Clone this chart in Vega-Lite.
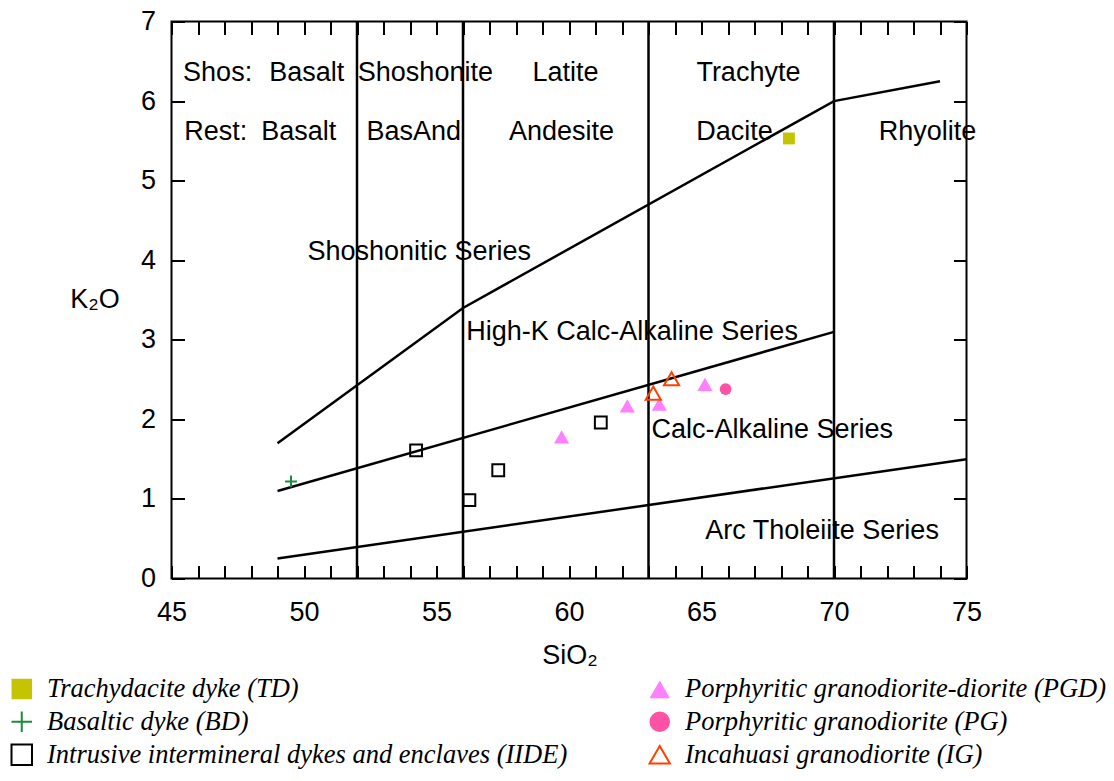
{
  "$schema": "https://vega.github.io/schema/vega-lite/v6.json",
  "width": 795,
  "height": 557,
  "autosize": "none",
  "padding": {"left": 171.5, "top": 21.5, "right": 147.5, "bottom": 202.5},
  "background": "white",
  "config": {
    "view": {"stroke": "black", "strokeWidth": 2},
    "axis": {
      "domain": false,
      "grid": false,
      "labelFlush": false,
      "labelOverlap": false,
      "tickColor": "black",
      "tickWidth": 2,
      "tickSize": -13,
      "labelFont": "Liberation Sans",
      "labelFontSize": 27,
      "labelColor": "black",
      "titleFont": "Liberation Sans",
      "titleFontSize": 27,
      "titleFontWeight": "normal",
      "titleColor": "black"
    },
    "legend": {
      "labelFont": "Liberation Serif",
      "labelFontStyle": "italic",
      "labelFontSize": 26.5,
      "labelColor": "black",
      "labelLimit": 0,
      "symbolSize": 420,
      "symbolStrokeWidth": 2
    },
    "text": {"font": "Liberation Sans", "fontSize": 27, "color": "black"}
  },
  "datasets": {
    "dividers": [{"SiO2": 52}, {"SiO2": 56}, {"SiO2": 63}, {"SiO2": 70}],
    "boundaries": [
      {"boundary": "A", "SiO2": 49, "K2O": 1.7},
      {"boundary": "A", "SiO2": 56, "K2O": 3.4},
      {"boundary": "A", "SiO2": 70, "K2O": 6.0},
      {"boundary": "A", "SiO2": 74, "K2O": 6.25},
      {"boundary": "B", "SiO2": 49, "K2O": 1.1},
      {"boundary": "B", "SiO2": 70, "K2O": 3.1},
      {"boundary": "C", "SiO2": 49, "K2O": 0.25},
      {"boundary": "C", "SiO2": 75, "K2O": 1.5}
    ],
    "labels": [
      {"label": "Shos:", "SiO2": 46.74, "K2O": 6.25},
      {"label": "Basalt", "SiO2": 50.1, "K2O": 6.25},
      {"label": "Shoshonite", "SiO2": 54.58, "K2O": 6.25},
      {"label": "Latite", "SiO2": 59.87, "K2O": 6.25},
      {"label": "Trachyte", "SiO2": 66.77, "K2O": 6.25},
      {"label": "Rest:", "SiO2": 46.67, "K2O": 5.51},
      {"label": "Basalt", "SiO2": 49.8, "K2O": 5.51},
      {"label": "BasAnd", "SiO2": 54.14, "K2O": 5.51},
      {"label": "Andesite", "SiO2": 59.72, "K2O": 5.51},
      {"label": "Dacite", "SiO2": 66.25, "K2O": 5.51},
      {"label": "Rhyolite", "SiO2": 73.53, "K2O": 5.51},
      {"label": "Shoshonitic Series", "SiO2": 54.35, "K2O": 4.0},
      {"label": "High-K Calc-Alkaline Series", "SiO2": 62.38, "K2O": 3.0},
      {"label": "Calc-Alkaline Series", "SiO2": 67.67, "K2O": 1.76},
      {"label": "Arc Tholeiite Series", "SiO2": 69.55, "K2O": 0.5}
    ],
    "samples": [
      {"group": "Trachydacite dyke (TD)", "SiO2": 68.3, "K2O": 5.53},
      {"group": "Basaltic dyke (BD)", "SiO2": 49.51, "K2O": 1.22},
      {"group": "Intrusive intermineral dykes and enclaves (IIDE)", "SiO2": 54.23, "K2O": 1.61},
      {"group": "Intrusive intermineral dykes and enclaves (IIDE)", "SiO2": 56.24, "K2O": 0.985},
      {"group": "Intrusive intermineral dykes and enclaves (IIDE)", "SiO2": 57.33, "K2O": 1.36},
      {"group": "Intrusive intermineral dykes and enclaves (IIDE)", "SiO2": 61.2, "K2O": 1.96},
      {"group": "Porphyritic granodiorite-diorite (PGD)", "SiO2": 59.72, "K2O": 1.78},
      {"group": "Porphyritic granodiorite-diorite (PGD)", "SiO2": 62.2, "K2O": 2.17},
      {"group": "Porphyritic granodiorite-diorite (PGD)", "SiO2": 63.41, "K2O": 2.19},
      {"group": "Porphyritic granodiorite-diorite (PGD)", "SiO2": 65.13, "K2O": 2.44},
      {"group": "Porphyritic granodiorite (PG)", "SiO2": 65.91, "K2O": 2.38},
      {"group": "Incahuasi granodiorite (IG)", "SiO2": 63.18, "K2O": 2.33},
      {"group": "Incahuasi granodiorite (IG)", "SiO2": 63.87, "K2O": 2.51}
    ]
  },
  "resolve": {"axis": {"x": "independent", "y": "independent"}},
  "layer": [
    {
      "data": {"name": "dividers"},
      "mark": {"type": "rule", "color": "black", "strokeWidth": 2.5},
      "encoding": {
        "x": {"field": "SiO2", "type": "quantitative", "scale": {"domain": [45, 75], "nice": false, "zero": false}, "axis": null}
      }
    },
    {
      "data": {"name": "boundaries"},
      "mark": {"type": "line", "color": "black", "strokeWidth": 2.5},
      "encoding": {
        "x": {
          "field": "SiO2", "type": "quantitative",
          "scale": {"domain": [45, 75], "nice": false, "zero": false},
          "axis": {
            "orient": "bottom",
            "values": [45,46,47,48,49,50,51,52,53,54,55,56,57,58,59,60,61,62,63,64,65,66,67,68,69,70,71,72,73,74,75],
            "labelExpr": "datum.value % 5 === 0 ? datum.label : ''",
            "labelPadding": 34,
            "title": "SiO₂",
            "titleX": 398,
            "titleY": 77,
            "titleBaseline": "middle",
            "titleAnchor": null
          }
        },
        "y": {
          "field": "K2O", "type": "quantitative",
          "scale": {"domain": [0, 7], "nice": false, "zero": false},
          "axis": {
            "orient": "left",
            "values": [0,1,2,3,4,5,6,7],
            "labelPadding": 29,
            "title": "K₂O",
            "titleAngle": 0,
            "titleX": -77,
            "titleY": 278,
            "titleAlign": "center",
            "titleBaseline": "middle"
          }
        },
        "detail": {"field": "boundary"}
      }
    },
    {
      "data": {"name": "labels"},
      "mark": {"type": "text", "align": "center", "baseline": "alphabetic"},
      "encoding": {
        "x": {
          "field": "SiO2", "type": "quantitative",
          "scale": {"domain": [45, 75], "nice": false, "zero": false},
          "axis": {
            "orient": "top",
            "values": [45,46,47,48,49,50,51,52,53,54,55,56,57,58,59,60,61,62,63,64,65,66,67,68,69,70,71,72,73,74,75],
            "labels": false,
            "title": null
          }
        },
        "y": {
          "field": "K2O", "type": "quantitative",
          "scale": {"domain": [0, 7], "nice": false, "zero": false},
          "axis": {
            "orient": "right",
            "values": [0,1,2,3,4,5,6,7],
            "labels": false,
            "title": null
          }
        },
        "text": {"field": "label"}
      }
    },
    {
      "data": {"name": "samples"},
      "transform": [{"filter": {"field": "group", "oneOf": ["Trachydacite dyke (TD)", "Basaltic dyke (BD)", "Intrusive intermineral dykes and enclaves (IIDE)", "Porphyritic granodiorite (PG)"]}}],
      "mark": {"type": "point", "opacity": 1, "strokeWidth": 2, "size": 140},
      "encoding": {
        "x": {"field": "SiO2", "type": "quantitative", "scale": {"domain": [45, 75], "nice": false, "zero": false}, "axis": null},
        "y": {"field": "K2O", "type": "quantitative", "scale": {"domain": [0, 7], "nice": false, "zero": false}, "axis": null},
        "shape": {
          "field": "group", "type": "nominal",
          "scale": {
            "domain": ["Trachydacite dyke (TD)", "Basaltic dyke (BD)", "Intrusive intermineral dykes and enclaves (IIDE)", "Porphyritic granodiorite-diorite (PGD)", "Porphyritic granodiorite (PG)", "Incahuasi granodiorite (IG)"],
            "range": ["square", "M-1,0H1M0,-1V1", "square", "triangle-up", "circle", "triangle-up"]
          },
          "legend": {
            "title": null,
            "orient": "none",
            "legendX": -163,
            "legendY": 654,
            "columns": 2,
            "columnPadding": 78,
            "rowPadding": 4,
            "labelOffset": 12
          }
        },
        "fill": {
          "field": "group", "type": "nominal",
          "scale": {
            "domain": ["Trachydacite dyke (TD)", "Basaltic dyke (BD)", "Intrusive intermineral dykes and enclaves (IIDE)", "Porphyritic granodiorite-diorite (PGD)", "Porphyritic granodiorite (PG)", "Incahuasi granodiorite (IG)"],
            "range": ["#c6c300", "transparent", "transparent", "#ff80ff", "#ff52a6", "transparent"]
          }
        },
        "stroke": {
          "field": "group", "type": "nominal",
          "scale": {
            "domain": ["Trachydacite dyke (TD)", "Basaltic dyke (BD)", "Intrusive intermineral dykes and enclaves (IIDE)", "Porphyritic granodiorite-diorite (PGD)", "Porphyritic granodiorite (PG)", "Incahuasi granodiorite (IG)"],
            "range": ["transparent", "#1a8c3c", "#000000", "transparent", "transparent", "#ff4000"]
          }
        }
      }
    },
    {
      "data": {"name": "samples"},
      "transform": [{"filter": {"field": "group", "oneOf": ["Porphyritic granodiorite-diorite (PGD)", "Incahuasi granodiorite (IG)"]}}],
      "mark": {"type": "point", "opacity": 1, "strokeWidth": 2, "size": 230},
      "encoding": {
        "x": {"field": "SiO2", "type": "quantitative", "scale": {"domain": [45, 75], "nice": false, "zero": false}, "axis": null},
        "y": {"field": "K2O", "type": "quantitative", "scale": {"domain": [0, 7], "nice": false, "zero": false}, "axis": null},
        "shape": {"field": "group", "type": "nominal"},
        "fill": {"field": "group", "type": "nominal"},
        "stroke": {"field": "group", "type": "nominal"}
      }
    }
  ]
}
